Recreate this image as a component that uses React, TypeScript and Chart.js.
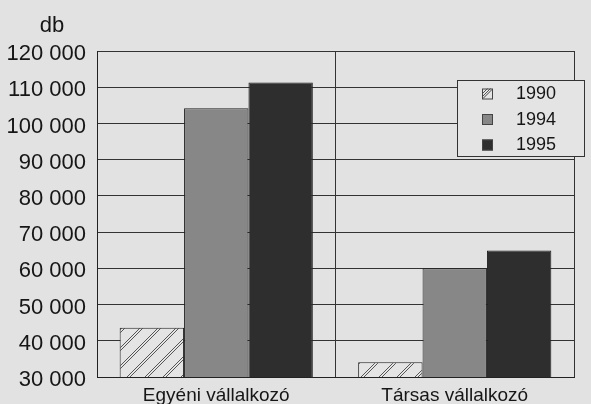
import React, { useEffect, useRef } from "react";
import { Chart, registerables } from "chart.js";

Chart.register(...registerables);

const categories = ["Egyéni vállalkozó", "Társas vállalkozó"];
const years = ["1990", "1994", "1995"];
const values1990 = [43600, 34100];
const values1994 = [104200, 60000];
const values1995 = [111300, 64900];
const yMin = 30000;
const yMax = 120000;
const yStep = 10000;
const unitLabel = "db";

function makeHatch(): CanvasPattern | string {
  const c = document.createElement("canvas");
  c.width = 18;
  c.height = 18;
  const g = c.getContext("2d");
  if (!g) return "#e0e0e0";
  g.fillStyle = "#e4e4e4";
  g.fillRect(0, 0, 18, 18);
  g.strokeStyle = "#555";
  g.lineWidth = 1;
  for (const off of [0, 3]) {
    for (const k of [-18, 0, 18]) {
      g.beginPath();
      g.moveTo(k + off, 18);
      g.lineTo(k + off + 18, 0);
      g.stroke();
    }
  }
  const p = g.createPattern(c, "repeat");
  return p || "#e0e0e0";
}

export default function App() {
  const ref = useRef<HTMLCanvasElement>(null);
  useEffect(() => {
    document.body.style.margin = "0";
    document.body.style.background = "#e2e2e2";
    const canvas = ref.current;
    if (!canvas) return;
    const hatch = makeHatch();
    const colors = [hatch, "#878787", "#2e2e2e"];
    const font = "'Liberation Sans', Arial, sans-serif";
    const textColor = "#161616";

    const overlay = {
      id: "overlay",
      afterDraw(chart: any) {
        const ctx = chart.ctx;
        const ca = chart.chartArea;
        ctx.save();
        // unit label
        ctx.fillStyle = textColor;
        ctx.font = `22px ${font}`;
        ctx.textAlign = "center";
        ctx.textBaseline = "middle";
        ctx.fillText(unitLabel, ca.left - 45, ca.top - 25);
        // legend box
        const bx = ca.left + 360;
        const by = ca.top + 29;
        const bw = 127;
        const bh = 76;
        ctx.fillStyle = "#e4e4e4";
        ctx.fillRect(bx, by, bw, bh);
        ctx.strokeStyle = "#333";
        ctx.lineWidth = 1;
        ctx.strokeRect(bx + 0.5, by + 0.5, bw, bh);
        ctx.font = `18px ${font}`;
        ctx.textAlign = "left";
        years.forEach((y, i) => {
          const cy = by + 13.5 + i * 25.5;
          ctx.fillStyle = colors[i] as any;
          ctx.fillRect(bx + 25, cy - 5, 11, 11);
          ctx.strokeStyle = "#444";
          ctx.strokeRect(bx + 25.5, cy - 4.5, 10, 10);
          if (i === 0) {
            ctx.beginPath();
            ctx.moveTo(bx + 26, cy + 5);
            ctx.lineTo(bx + 35, cy - 4);
            ctx.stroke();
          }
          ctx.fillStyle = textColor;
          ctx.fillText(y, bx + 59, cy + 1);
        });
        ctx.restore();
      },
    };

    const bgPlugin = {
      id: "bg",
      beforeDraw(chart: any) {
        const ctx = chart.ctx;
        ctx.save();
        ctx.fillStyle = "#e2e2e2";
        ctx.fillRect(0, 0, chart.width, chart.height);
        ctx.restore();
      },
    };

    const chart = new Chart(canvas, {
      type: "bar",
      data: {
        labels: categories,
        datasets: [values1990, values1994, values1995].map((d, i) => ({
          label: years[i],
          data: d,
          backgroundColor: colors[i] as any,
          borderColor: "#222",
          borderWidth: 1,
          borderSkipped: false,
          categoryPercentage: 0.81,
          barPercentage: 1,
        })),
      },
      options: {
        animation: false,
        responsive: false,
        maintainAspectRatio: false,
        layout: { padding: { top: 51, right: 17, left: 0, bottom: 0 } },
        plugins: { legend: { display: false }, tooltip: { enabled: false } },
        scales: {
          x: {
            grid: { display: true, offset: true, color: "#333", drawTicks: false, lineWidth: 1 },
            border: { display: true, color: "#222" },
            ticks: { color: textColor, font: { size: 19, family: font }, padding: 7 },
            afterFit(scale: any) {
              scale.height = 27;
            },
          },
          y: {
            min: yMin,
            max: yMax,
            grid: { color: "#333", drawTicks: false, lineWidth: 1 },
            border: { display: true, color: "#222" },
            ticks: {
              stepSize: yStep,
              color: textColor,
              padding: 11,
              labelOffset: 3,
              font: { size: 22, family: font },
              callback: (v: any) => String(v).replace(/\B(?=(\d{3})+(?!\d))/g, " "),
            },
            afterFit(scale: any) {
              scale.width = 97;
            },
          },
        },
      },
      plugins: [bgPlugin, overlay],
    });
    return () => chart.destroy();
  }, []);
  return (
    <div style={{ position: "absolute", left: 0, top: 0, width: 591, height: 404 }}>
      <canvas ref={ref} width={591} height={404} style={{ display: "block" }} />
    </div>
  );
}
